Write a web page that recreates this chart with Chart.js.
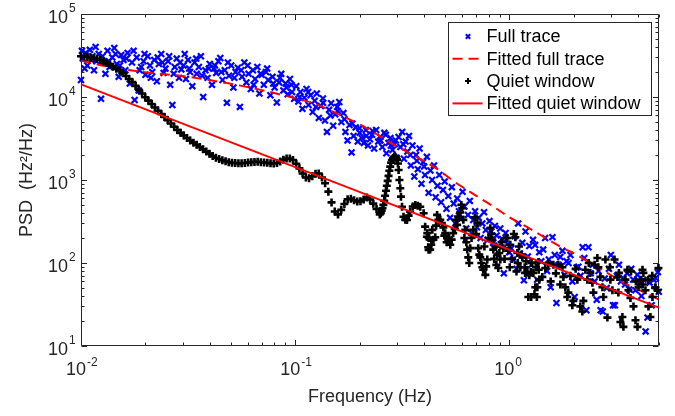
<!DOCTYPE html>
<html><head><meta charset="utf-8">
<script src="https://cdn.jsdelivr.net/npm/chart.js@4.4.1/dist/chart.umd.min.js"></script>
<style>html,body{margin:0;padding:0;background:#fff;}canvas{display:block;}</style>
</head><body>
<canvas id="c" width="675" height="416"></canvas>
<script>
// ---------- DATA ----------
const fullF = [
0.0100,0.0102,0.0105,0.0107,0.0110,0.0113,0.0115,0.0118,0.0121,0.0124,0.0127,0.0130,0.0133,0.0136,0.0140,0.0143,0.0147,0.0150,0.0154,0.0158,0.0161,0.0165,0.0169,0.0173,0.0178,0.0182,0.0186,0.0191,0.0196,0.0200,0.0205,0.0210,0.0215,0.0220,0.0226,0.0231,0.0237,0.0243,0.0248,0.0255,0.0261,0.0267,0.0274,0.0280,0.0287,0.0294,
0.0301,0.0309,0.0316,0.0323,0.0331,0.0339,0.0347,0.0355,0.0363,0.0372,0.0381,0.0390,0.0399,0.0409,0.0418,0.0428,0.0438,0.0447,0.0458,0.0469,0.0480,0.0491,0.0503,0.0515,0.0527,0.0540,0.0552,0.0565,0.0579,0.0592,0.0606,0.0621,0.0635,0.0650,0.0666,0.0681,0.0698,0.0714,0.0731,0.0748,0.0766,0.0784,0.0802,0.0821,0.0841,0.0861,0.0881,0.0902,0.0923,0.0945,0.0967,0.0990,
0.1012,0.1035,0.1058,0.1081,0.1105,0.1130,0.1155,0.1181,0.1207,0.1234,0.1262,0.1290,0.1318,0.1348,0.1378,0.1408,0.1440,0.1472,0.1505,0.1538,0.1572,0.1607,0.1643,0.1680,0.1717,0.1755,0.1794,0.1834,0.1875,0.1917,0.1960,0.2003,0.2048,0.2093,0.2140,0.2188,0.2236,0.2286,0.2337,0.2389,0.2442,0.2496,0.2552,0.2609,0.2667,0.2726,0.2787,0.2849,0.2912,0.2977,
0.304,0.310,0.316,0.322,0.328,0.334,0.340,0.347,0.353,0.360,0.367,0.374,0.381,0.389,0.396,0.404,0.412,0.420,0.428,0.436,0.445,0.453,0.462,0.471,0.480,0.490,0.499,0.509,0.519,0.529,0.539,0.550,0.560,0.571,0.582,0.594,0.605,0.617,0.629,0.641,0.654,0.666,0.679,0.692,0.706,0.720,0.734,0.748,0.762,0.777,0.793,0.808,0.824,0.840,0.856,0.873,0.890,0.907,0.925,0.943,0.961,0.980,0.999,
1.02,1.04,1.06,1.08,1.10,1.12,1.15,1.17,1.19,1.22,1.24,1.27,1.29,1.32,1.35,1.38,1.41,1.44,1.47,1.50,1.53,1.56,1.59,1.63,1.66,1.70,1.73,1.77,1.81,1.85,1.89,1.93,1.97,2.02,2.06,2.10,2.15,2.20,2.24,2.29,2.34,2.40,2.45,2.50,2.56,2.61,2.67,2.73,2.79,2.85,2.92,2.98,3.05,3.11,3.18,3.25,3.32,3.40,3.47,3.55,3.63,3.71,3.79,3.88,3.96,4.05,4.14,4.23,4.33,4.42,4.52,4.62,4.72,4.83,4.94,4.99,
0.0101,0.0104,0.0112,0.0117,0.0126,0.0135,0.0145,0.0152,0.0163,0.0176,0.0188,0.0198,0.0212,0.0228,0.0240,0.0258,0.0271,0.0290,0.0305,0.0320,0.0345,0.0368,0.0395,0.0422,0.0452,0.0485,0.0520,0.0560,0.0600,0.0640,0.0690,0.0740,0.0790,0.0850,0.0910,0.0960,0.105,0.115,0.125,0.135,0.146,0.158,0.170,0.185,0.20,0.215,0.23,0.25,0.265,0.28,0.295,0.32,0.345,0.37,0.40];
const fullP = [
16000,29000,34000,24000,37000,31000,21000,27000,33000,9500,26000,19000,36000,23000,30000,39000,25000,17500,32000,28000,21000,34000,14500,26000,9200,30000,12000,23000,27000,18500,31000,24000,20000,28000,15500,25000,33000,19500,22000,27000,14000,8000,23000,29000,17000,21500,
24000,16500,28000,20000,13500,26000,19000,23000,31000,10000,21000,17000,25000,14000,22000,19500,27000,29500,16000,21000,8500,18000,24000,13000,20000,22500,7600,17500,26000,15000,19000,12500,21000,16500,23000,11000,18500,14000,20000,16000,10500,17500,13000,8600,15000,19000,12000,14500,10800,16500,11500,9500,
13500,8800,11500,7200,9800,12500,8000,10500,6600,9000,11000,5600,7800,9600,5200,3800,7000,8400,4500,6200,7600,8700,5000,6400,3800,3000,4600,2150,3400,4300,2900,3700,3200,2800,4000,2600,3100,3500,2400,4000,2900,3300,2500,3700,2100,2800,3200,2300,2700,1850,
3300,2500,3800,1800,2900,2200,3400,1500,2600,1100,2000,1350,2400,900,1650,1150,1900,700,1300,1000,1500,620,850,1150,540,760,960,450,640,350,820,520,300,600,420,340,720,480,260,380,560,230,330,420,270,350,200,300,410,250,190,320,240,175,280,215,160,260,195,75,230,170,135,
150,110,210,85,300,130,175,62,240,120,160,95,190,165,63,135,105,145,200,80,110,51,205,125,33,95,118,140,72,105,100,125,60,39,88,90,70,155,115,27,155,75,95,60,36,80,27,26,65,50,85,125,31,31,70,95,60,66,55,75,48,85,63,47,72,58,40,63,15,22,58,31,63,66,78,45,
36000,22000,28000,40000,31000,27000,33000,24000,29000,36000,21000,33000,17000,30000,26000,31000,19000,26000,33000,22000,29000,18000,22000,24000,20000,26000,17000,21000,24000,14000,19000,22000,14500,17000,13000,14000,10000,11500,7600,8500,6000,6800,5400,4800,4200,3400,3900,3000,3500,2600,3000,2700,2000,1700,1450];

const fitFullF = [0.0100,0.01387,0.01986,0.02838,0.03412,0.04875,0.06982,0.08670,0.1074,0.1219,0.1683,0.2163,0.2780,0.4046,0.4677,0.5395,0.6339,0.7311,0.8453,0.9931,1.125,1.321,1.528,1.795,2.070,2.393,2.812,3.243,3.882,4.560,5.0];
const fitFullP = [27400,22800,19900,18100,17000,14600,12100,10600,9200,8400,5800,4200,2820,1660,1320,1000,759,603,476,361,301,238,189,150,125,99,78.5,62.4,49.5,41.1,36.3];

const quietF = [
0.01000,0.01035,0.01072,0.01109,0.01148,0.01189,0.01230,0.01274,0.01318,0.01365,0.01413,0.01462,0.01514,0.01567,0.01622,0.01679,0.01738,0.01799,0.01862,0.01928,0.01995,0.02065,0.02138,0.02213,0.02291,0.02371,0.02455,0.02541,0.02630,0.02723,0.02818,0.02917,0.03020,0.03126,0.03236,0.03350,0.03467,0.03589,0.03715,0.03846,0.03981,0.04121,0.04266,0.04416,0.04571,0.04732,0.04898,0.05070,0.05248,0.05433,0.05623,0.05821,0.06026,0.06237,0.06457,0.06683,0.06918,0.07161,0.07413,0.07674,0.07943,0.08222,0.08511,0.08810,0.09120,0.09441,0.09772,0.1012,0.1047,0.1084,0.1122,0.1161,0.1202,0.1245,0.1288,0.1334,0.1380,0.1429,0.1479,0.1531,0.1585,0.1641,0.1698,0.1758,0.1820,0.1884,0.1950,0.2018,0.2089,0.2163,0.2239,0.2317,0.2399,0.2483,
0.2512,0.2535,0.2559,0.2582,0.2606,0.2630,0.2655,0.2679,0.2704,0.2729,0.2754,0.2780,0.2805,0.2831,0.2864,0.2897,0.2931,0.2965,0.2992,0.3020,0.3041,0.3069,0.3097,0.3119,0.3155,0.3206,0.3266,0.3327,0.3388,0.3443,0.3540,0.3639,0.3733,0.3837,0.3981,0.4046,0.4121,0.4198,
0.414,0.418,0.420,0.427,0.432,0.437,0.442,0.451,0.455,0.460,0.466,0.476,0.484,0.492,0.497,0.502,0.510,0.519,0.523,0.530,0.538,0.547,0.556,0.563,0.571,0.577,0.590,0.597,0.603,0.610,0.617,0.623,0.630,0.636,0.643,0.650,0.657,0.666,0.679,0.690,0.700,0.709,0.716,0.724,0.732,0.740,0.748,0.756,0.765,0.773,0.780,0.789,0.800,0.815,0.824,0.833,0.842,0.850,0.860,0.870,0.879,0.888,0.898,0.908,0.920,0.938,0.950,0.965,0.979,0.990,
1.005,1.011,1.03,1.05,1.067,1.08,1.09,1.095,1.11,1.126,1.14,1.15,1.18,1.185,1.20,1.214,1.227,1.24,1.26,1.265,1.27,1.295,1.31,1.323,1.33,1.345,1.352,1.366,1.372,1.38,1.426,1.473,1.521,1.56,1.606,1.65,1.694,1.73,1.769,1.788,1.827,1.866,1.886,1.93,1.969,1.990,2.04,2.078,2.100,2.146,2.193,2.217,2.265,2.314,2.35,2.390,2.443,2.469,2.50,2.577,2.605,2.662,2.721,2.750,2.810,2.871,2.95,2.965,3.030,3.10,3.197,3.231,3.25,3.302,3.374,3.410,3.485,3.561,3.600,3.679,3.70,3.800,3.883,3.90,3.968,4.010,4.098,4.187,4.20,4.229,4.322,4.45,4.463,4.560,4.65,4.660,4.80,4.812,4.917,4.970];
const quietP = [
31000,30800,30300,29900,29300,28800,27900,26800,25600,24400,23100,21900,20900,19400,17900,16500,15100,13600,12200,11000,9930,9040,8220,7480,6840,6250,5730,5240,4790,4380,4000,3700,3440,3200,2990,2820,2660,2500,2350,2200,2070,1940,1850,1790,1730,1680,1640,1610,1600,1590,1590,1600,1620,1640,1650,1660,1640,1630,1610,1590,1580,1600,1670,1750,1810,1810,1740,1570,1380,1200,1070,1050,1110,1190,1200,1070,912,724,537,417,385,437,513,586,596,569,552,556,582,617,582,519,447,385,
398,427,457,501,562,646,741,851,977,1120,1290,1450,1620,1740,1840,1900,1910,1860,1760,1580,1320,1000,794,630,476,361,331,330,372,415,479,500,490,476,397,274,207,144,
229,155,200,145,166,251,191,204,282,380,331,331,302,269,214,229,178,191,200,166,191,229,257,331,288,363,407,501,457,331,200,251,178,145,117,100,151,200,251,355,224,302,151,126,117,100,89,83,158,72,91,110,200,263,224,191,145,112,158,95,126,87,132,110,178,151,112,200,200,141,
89,166,112,224,204,79,132,100,158,89,126,117,89,76,105,78,39,71,78,39,100,76,42,51,89,39,51,102,83,63,68,87,100,60,95,75,95,55,89,68,51,39,44,70,31,35,85,63,68,30,26,35,83,63,100,76,58,44,95,115,89,68,51,39,110,22,89,63,47,110,68,44,76,19.5,22.4,17,63,83,47,38,79,30,20.4,60,17,51,63,83,55,76,47,63,30,22.4,70,39,50,51,47,87];

const fitQuietF = [0.01, 5];
const fitQuietP = [14200, 29];

const xTickValues = [0.01, 0.1, 1];
const xTickExp    = ['-2', '-1', '0'];
const yTickValues = [10, 100, 1000, 10000, 100000];
const yTickExp    = ['1', '2', '3', '4', '5'];

// ---------- CHART ----------
const FONT = '"Liberation Sans", Arial, Helvetica, sans-serif';
const AXC = '#262626';
const pts = (xs, ys) => xs.map((v, i) => ({x: v, y: ys[i]}));
const isDecade = (v, list) => list.findIndex(d => Math.abs(Math.log10(v) - Math.log10(d)) < 1e-6);

const axisFrame = {
  id: 'axisFrame',
  beforeDatasetsDraw(chart) {
    const {ctx, chartArea: a, scales: {x, y}} = chart;
    const L = Math.round(a.left) + 0.5, R = Math.round(a.right) - 0.5;
    const T = Math.round(a.top) + 0.5, B = Math.round(a.bottom) - 0.5;
    ctx.save();
    ctx.strokeStyle = AXC; ctx.lineWidth = 1;
    ctx.beginPath();
    ctx.rect(L, T, R - L, B - T);
    for (let e = -2; e <= 0; e++) for (let m = 1; m <= 9; m++) {
      const v = m * Math.pow(10, e);
      if (v > x.max * 1.0001) continue;
      const px = Math.round(x.getPixelForValue(v)) + 0.5;
      const len = m === 1 ? 5.5 : 3;
      ctx.moveTo(px, B); ctx.lineTo(px, B - len);
      ctx.moveTo(px, T); ctx.lineTo(px, T + len);
    }
    for (let e = 1; e <= 5; e++) for (let m = 1; m <= 9; m++) {
      const v = m * Math.pow(10, e);
      if (v > y.max * 1.0001) continue;
      const py = Math.round(y.getPixelForValue(v)) + 0.5;
      const len = m === 1 ? 5.5 : 3;
      ctx.moveTo(L, py); ctx.lineTo(L + len, py);
      ctx.moveTo(R, py); ctx.lineTo(R - len, py);
    }
    ctx.stroke();
    ctx.restore();
  }
};

// exponents of the "10^n" tick labels
const tickExponents = {
  id: 'tickExponents',
  afterDraw(chart) {
    const {ctx, scales: {x, y}} = chart;
    ctx.save();
    ctx.font = '12px ' + FONT; ctx.fillStyle = AXC;
    ctx.textBaseline = 'middle'; ctx.textAlign = 'left';
    xTickValues.forEach((v, i) => {
      ctx.fillText(xTickExp[i], x.getPixelForValue(v) + 6, x.top + 17);
    });
    yTickValues.forEach((v, i) => {
      ctx.fillText(yTickExp[i], y.right - 12, y.getPixelForValue(v) - 5);
    });
    ctx.restore();
  }
};

const boxLegend = {
  id: 'boxLegend',
  afterDraw(chart) {
    const {ctx, chartArea: a} = chart;
    const ds = chart.data.datasets;
    const W = 203, H = 93;
    const R = Math.round(a.right) - 8, T = Math.round(a.top) + 8;
    const L = R - W;
    ctx.save();
    ctx.fillStyle = '#fff';
    ctx.fillRect(L, T, W, H);
    ctx.strokeStyle = AXC; ctx.lineWidth = 1;
    ctx.strokeRect(L + 0.5, T + 0.5, W, H);
    ctx.font = '18px ' + FONT;
    ctx.textBaseline = 'middle';
    ds.forEach((d, i) => {
      const cy = T + 14.5 + i * 22.3;
      const x0 = L + 4.5, x1 = L + 34.5, xm = L + 20;
      ctx.save();
      if (d.showLine) {
        ctx.strokeStyle = d.borderColor; ctx.lineWidth = d.borderWidth;
        ctx.setLineDash(d.borderDash || []);
        ctx.beginPath(); ctx.moveTo(x0, cy); ctx.lineTo(x1, cy); ctx.stroke();
      } else {
        ctx.strokeStyle = d.pointBorderColor; ctx.lineWidth = 2;
        ctx.beginPath();
        if (d.pointStyle === 'crossRot') {
          ctx.moveTo(xm - 2.2, cy - 2.2); ctx.lineTo(xm + 2.2, cy + 2.2);
          ctx.moveTo(xm - 2.2, cy + 2.2); ctx.lineTo(xm + 2.2, cy - 2.2);
        } else {
          ctx.moveTo(xm - 3, cy); ctx.lineTo(xm + 3, cy);
          ctx.moveTo(xm, cy - 3); ctx.lineTo(xm, cy + 3);
        }
        ctx.stroke();
      }
      ctx.restore();
      ctx.fillStyle = '#000';
      ctx.fillText(d.label, L + 38.5, cy + 1);
    });
    ctx.restore();
  }
};

Chart.defaults.font.family = FONT;
Chart.defaults.color = AXC;

new Chart(document.getElementById('c'), {
  type: 'scatter',
  data: {
    datasets: [
      { label: 'Full trace', data: pts(fullF, fullP), showLine: false,
        pointStyle: 'crossRot', pointRadius: 4.2, pointBorderWidth: 2.2,
        pointBorderColor: '#0000FF', pointBackgroundColor: '#0000FF', borderColor: '#0000FF',
        order: 4, clip: false },
      { label: 'Fitted full trace', data: pts(fitFullF, fitFullP), showLine: true,
        borderColor: '#FF0000', borderWidth: 2, borderDash: [10, 6], pointRadius: 0,
        cubicInterpolationMode: 'monotone', order: 3, clip: false },
      { label: 'Quiet window', data: pts(quietF, quietP), showLine: false,
        pointStyle: 'cross', pointRadius: 4, pointBorderWidth: 2.6,
        pointBorderColor: '#000000', pointBackgroundColor: '#000000', borderColor: '#000000',
        order: 2, clip: false },
      { label: 'Fitted quiet window', data: pts(fitQuietF, fitQuietP), showLine: true,
        borderColor: '#FF0000', borderWidth: 2, pointRadius: 0, order: 1, clip: false }
    ]
  },
  options: {
    responsive: false, animation: false, devicePixelRatio: 1, events: [],
    layout: { padding: { left: 0, top: 14, right: 16, bottom: 0 } },
    plugins: { legend: { display: false }, tooltip: { enabled: false } },
    scales: {
      x: {
        type: 'logarithmic', min: 0.01, max: 5,
        afterBuildTicks: s => { s.ticks = xTickValues.map(v => ({value: v})); },
        afterFit: s => { s.height = 70; s.paddingLeft = 0; s.paddingRight = 0; },
        grid: { display: false, drawTicks: false }, border: { display: false },
        ticks: { autoSkip: false, maxRotation: 0, padding: 13, labelOffset: -5, color: AXC,
          font: { size: 18, family: FONT },
          callback: (v) => isDecade(v, xTickValues) >= 0 ? '10' : '' },
        title: { display: true, text: 'Frequency (Hz)', color: AXC,
          font: { size: 18, family: FONT }, padding: { top: 0, bottom: 8 } }
      },
      y: {
        type: 'logarithmic', min: 10, max: 100000,
        afterBuildTicks: s => { s.ticks = yTickValues.map(v => ({value: v})); },
        afterFit: s => { s.width = 81; s.paddingTop = 0; s.paddingBottom = 0; },
        grid: { display: false, drawTicks: false }, border: { display: false },
        ticks: { autoSkip: false, padding: 13, labelOffset: 4, color: AXC,
          font: { size: 18, family: FONT },
          callback: (v) => isDecade(v, yTickValues) >= 0 ? '10' : '' },
        title: { display: true, text: 'PSD  (Hz\u00B2/Hz)', color: AXC,
          font: { size: 18, family: FONT }, padding: { top: 16, bottom: 0 } }
      }
    }
  },
  plugins: [axisFrame, tickExponents, boxLegend]
});
</script>
</body></html>
